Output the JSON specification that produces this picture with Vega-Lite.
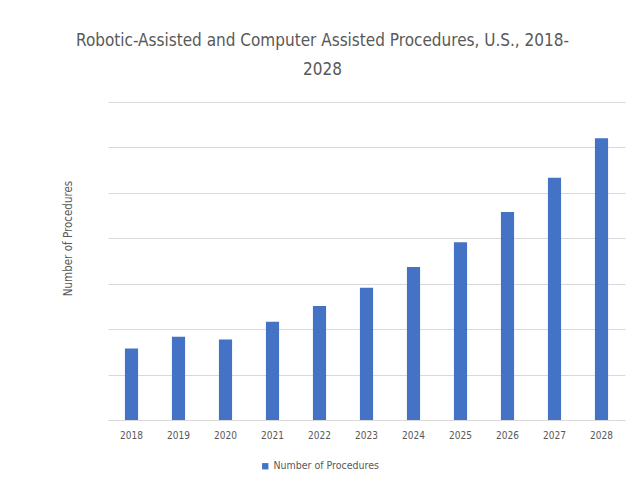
{
  "$schema": "https://vega.github.io/schema/vega-lite/v6.json",
  "autosize": "none",
  "width": 517,
  "height": 318,
  "padding": {"left": 108, "top": 102, "right": 16, "bottom": 74},
  "background": "white",
  "title": {
    "text": ["Robotic-Assisted and Computer Assisted Procedures, U.S., 2018-", "2028"],
    "anchor": "middle",
    "dx": -44,
    "offset": 23,
    "fontSize": 17,
    "fontWeight": "normal",
    "color": "#595959",
    "font": "DejaVu Sans Condensed, sans-serif",
    "lineHeight": 29
  },
  "data": {
    "values": [
      {"year": "2018", "value": 78800, "series": "Number of Procedures"},
      {"year": "2019", "value": 91500, "series": "Number of Procedures"},
      {"year": "2020", "value": 88500, "series": "Number of Procedures"},
      {"year": "2021", "value": 108000, "series": "Number of Procedures"},
      {"year": "2022", "value": 125500, "series": "Number of Procedures"},
      {"year": "2023", "value": 145500, "series": "Number of Procedures"},
      {"year": "2024", "value": 168500, "series": "Number of Procedures"},
      {"year": "2025", "value": 195500, "series": "Number of Procedures"},
      {"year": "2026", "value": 229000, "series": "Number of Procedures"},
      {"year": "2027", "value": 266500, "series": "Number of Procedures"},
      {"year": "2028", "value": 310000, "series": "Number of Procedures"}
    ]
  },
  "mark": {"type": "bar"},
  "encoding": {
    "x": {
      "field": "year",
      "type": "ordinal",
      "scale": {"paddingInner": 0.72, "paddingOuter": 0.36},
      "axis": {
        "title": null,
        "labelAngle": 0,
        "ticks": false,
        "domain": true,
        "domainColor": "#d9d9d9",
        "labelPadding": 10,
        "labelFontSize": 10,
        "labelColor": "#595959",
        "labelFont": "DejaVu Sans Condensed, sans-serif"
      }
    },
    "y": {
      "field": "value",
      "type": "quantitative",
      "scale": {"domain": [0, 350000], "nice": false},
      "axis": {
        "title": "Number of Procedures",
        "titleFontSize": 11.5,
        "titleFontWeight": "normal",
        "titleColor": "#595959",
        "titleFont": "DejaVu Sans Condensed, sans-serif",
        "titlePadding": 35,
        "titleY": 136,
        "labels": false,
        "ticks": false,
        "domain": false,
        "values": [0, 50000, 100000, 150000, 200000, 250000, 300000, 350000],
        "gridColor": "#d9d9d9",
        "gridWidth": 1
      }
    },
    "color": {
      "field": "series",
      "type": "nominal",
      "scale": {"range": ["#4472C4"]},
      "legend": {
        "title": null,
        "orient": "none",
        "legendX": 152,
        "legendY": 359,
        "symbolType": "square",
        "symbolSize": 40,
        "labelFontSize": 10.5,
        "labelColor": "#595959",
        "labelFont": "DejaVu Sans Condensed, sans-serif",
        "labelOffset": 3
      }
    }
  },
  "config": {"view": {"stroke": null}}
}
